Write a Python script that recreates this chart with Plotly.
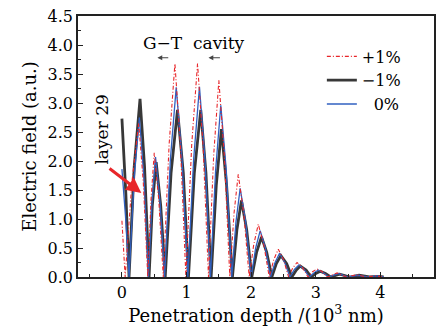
import plotly.graph_objects as go

# -1% series (black)
x_m1 = [0.00, 0.06, 0.11, 0.19, 0.28, 0.35, 0.42, 0.47, 0.53, 0.60, 0.67, 0.76, 0.86, 0.95,
        1.03, 1.12, 1.22, 1.30, 1.38, 1.46, 1.54, 1.62, 1.71, 1.78, 1.85, 1.93, 2.01, 2.085,
        2.16, 2.24, 2.32, 2.39, 2.46, 2.55, 2.63, 2.70, 2.76, 2.85, 2.93, 3.00, 3.07, 3.15,
        3.23, 3.37, 3.53, 3.67, 3.83, 3.97, 4.05]
y_m1 = [2.73, 1.45, 0.00, 1.90, 3.07, 1.90, 0.00, 1.23, 1.98, 1.23, 0.00, 1.79, 2.88, 1.79,
        0.00, 1.79, 2.88, 1.79, 0.00, 1.58, 2.55, 1.58, 0.00, 0.82, 1.32, 0.82, 0.00, 0.43,
        0.69, 0.43, 0.00, 0.23, 0.37, 0.23, 0.00, 0.12, 0.19, 0.12, 0.00, 0.06, 0.10, 0.06,
        0.00, 0.05, 0.00, 0.03, 0.00, 0.01, 0.00]

# 0% series (blue)
x_0 = [0.00, 0.055, 0.11, 0.19, 0.27, 0.34, 0.41, 0.465, 0.52, 0.59, 0.66, 0.75, 0.84, 0.93,
       1.02, 1.11, 1.20, 1.285, 1.37, 1.45, 1.53, 1.615, 1.70, 1.765, 1.83, 1.915, 2.00, 2.07,
       2.14, 2.22, 2.30, 2.37, 2.44, 2.52, 2.60, 2.67, 2.74, 2.82, 2.90, 2.97, 3.04, 3.12,
       3.20, 3.35, 3.50, 3.65, 3.80, 3.95, 4.05]
y_0 = [1.86, 1.05, 0.00, 1.71, 2.75, 1.71, 0.00, 1.28, 2.07, 1.28, 0.00, 2.03, 3.27, 2.03,
       0.00, 2.03, 3.28, 2.03, 0.00, 1.84, 2.96, 1.84, 0.00, 0.95, 1.53, 0.95, 0.00, 0.50,
       0.80, 0.50, 0.00, 0.25, 0.41, 0.25, 0.00, 0.13, 0.21, 0.13, 0.00, 0.07, 0.12, 0.07,
       0.00, 0.06, 0.00, 0.03, 0.00, 0.02, 0.00]

# +1% series (red)
x_p1 = [0.00, 0.025, 0.05, 0.155, 0.26, 0.33, 0.40, 0.45, 0.50, 0.57, 0.64, 0.73, 0.82, 0.905,
        0.99, 1.08, 1.17, 1.255, 1.34, 1.42, 1.50, 1.585, 1.67, 1.735, 1.80, 1.885, 1.97, 2.04,
        2.11, 2.195, 2.28, 2.35, 2.42, 2.50, 2.58, 2.645, 2.71, 2.795, 2.88, 2.95, 3.02, 3.10,
        3.18, 3.33, 3.48, 3.63, 3.78, 3.93, 4.05]
y_p1 = [0.97, 0.55, 0.00, 1.64, 2.65, 1.64, 0.00, 1.33, 2.14, 1.33, 0.00, 2.28, 3.68, 2.28,
        0.00, 2.28, 3.68, 2.28, 0.00, 2.10, 3.39, 2.10, 0.00, 1.10, 1.77, 1.10, 0.00, 0.56,
        0.91, 0.56, 0.00, 0.30, 0.48, 0.30, 0.00, 0.16, 0.25, 0.16, 0.00, 0.09, 0.14, 0.09,
        0.00, 0.07, 0.00, 0.04, 0.00, 0.02, 0.00]

names = ["+1%", "\u22121%", "\u2007\u200a0%"]

FONT = "DejaVu Serif, Liberation Serif, serif"

fig = go.Figure()
fig.add_trace(go.Scatter(x=x_m1, y=y_m1, mode="lines", name=names[1], legendrank=2,
                         line=dict(color="#383838", width=2.8)))
fig.add_trace(go.Scatter(x=x_0, y=y_0, mode="lines", name=names[2], legendrank=3,
                         line=dict(color="#3060c0", width=1.3)))
fig.add_trace(go.Scatter(x=x_p1, y=y_p1, mode="lines", name=names[0], legendrank=1,
                         line=dict(color="#e8262a", width=1.1, dash="4px,2px,1px,2px")))

fig.update_layout(
    width=443, height=330,
    margin=dict(l=78, r=7, t=13, b=53),
    paper_bgcolor="white", plot_bgcolor="white",
    font=dict(family=FONT, size=16, color="black"),
    showlegend=True,
    legend=dict(x=0.685, y=0.91, xanchor="left", yanchor="top",
                bgcolor="rgba(0,0,0,0)", font=dict(size=16, family=FONT),
                tracegroupgap=0, itemwidth=30),
    xaxis=dict(range=[-0.68, 4.83], dtick=1, tick0=0, ticks="inside", ticklen=5,
               tickwidth=1, tickcolor="#222", showline=True, linecolor="#222",
               linewidth=1.6, mirror=True, showgrid=False, zeroline=False,
               minor=dict(dtick=0.5, tick0=0, ticks="inside", ticklen=3, tickcolor="#222"),
               title=dict(text="Penetration depth /(10<sup>3</sup> nm)", standoff=4,
                          font=dict(size=18, family=FONT)),
               tickfont=dict(size=16, family=FONT)),
    yaxis=dict(range=[0, 4.5], dtick=0.5, tick0=0, ticks="inside", ticklen=5,
               tickwidth=1, tickcolor="#222", showline=True, linecolor="#222",
               linewidth=1.6, mirror=True, showgrid=False, zeroline=False,
               tickformat=".1f",
               minor=dict(dtick=0.25, tick0=0, ticks="inside", ticklen=3, tickcolor="#222"),
               title=dict(text="Electric field (a.u.)", standoff=6,
                          font=dict(size=18, family=FONT)),
               tickfont=dict(size=16, family=FONT)),
)

fig.add_annotation(x=1.11, y=4.04, xref="x", yref="y", text="G\u2212T  cavity",
                   showarrow=False, font=dict(size=17, family=FONT))
fig.add_annotation(x=0.55, y=3.78, ax=0.74, ay=3.78, xref="x", yref="y",
                   axref="x", ayref="y", text="", showarrow=True, arrowhead=2,
                   arrowsize=0.8, arrowwidth=1.2, arrowcolor="#444")
fig.add_annotation(x=1.34, y=3.78, ax=1.54, ay=3.78, xref="x", yref="y",
                   axref="x", ayref="y", text="", showarrow=True, arrowhead=2,
                   arrowsize=0.8, arrowwidth=1.2, arrowcolor="#444")
fig.add_annotation(x=-0.31, y=2.54, xref="x", yref="y", text="layer 29", textangle=-90,
                   showarrow=False, font=dict(size=17, family=FONT))
fig.add_annotation(x=0.30, y=1.45, ax=-0.215, ay=1.89, xref="x", yref="y",
                   axref="x", ayref="y", text="", showarrow=True, arrowhead=2,
                   arrowsize=1, arrowwidth=3, arrowcolor="#e8262a")

fig.write_html("out.html")
